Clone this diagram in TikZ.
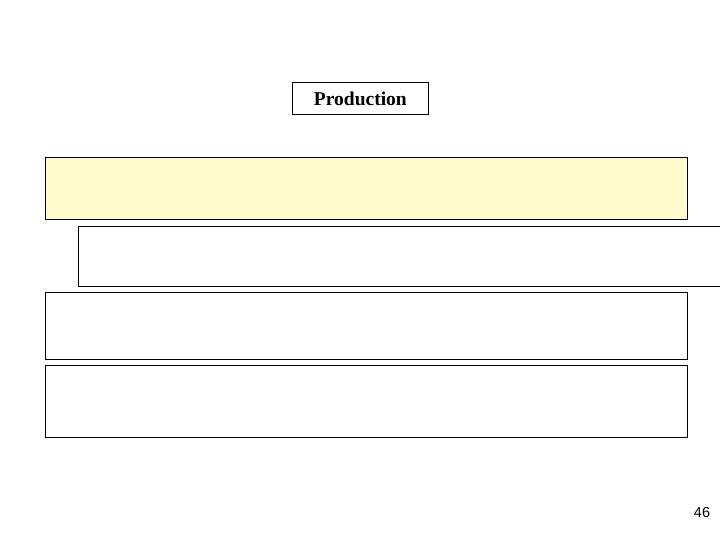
\documentclass[tikz,border=0pt]{standalone}
\usepackage{fontspec}
\setmainfont{Liberation Serif}
\newfontfamily\arialfont{Liberation Sans}
\definecolor{paleyellow}{HTML}{FFFBCC}
\begin{document}
\begin{tikzpicture}[x=1pt,y=-1pt,
  panel/.style={draw=black, line width=1pt, inner sep=0pt, anchor=north west},
  titlebox/.style={draw=black, line width=0.8pt, inner sep=0pt, anchor=north west,
    font=\bfseries\fontsize{19.5}{22}\selectfont}]
\useasboundingbox[fill=white] (0,0) rectangle (720,540);
\node[titlebox, minimum width=136pt, minimum height=32pt] (title) at (292,82) {Production};
\node[panel, fill=paleyellow, minimum width=642pt, minimum height=62pt] (p1) at (45,157) {};
\node[panel, minimum width=660pt, minimum height=60pt] (p2) at (78,226) {};
\node[panel, minimum width=642pt, minimum height=67pt] (p3) at (45,292) {};
\node[panel, minimum width=642pt, minimum height=72pt] (p4) at (45,365) {};
\node[font=\arialfont\fontsize{14.5}{16}\selectfont] (pg) at (702,513) {46};
\end{tikzpicture}
\end{document}
